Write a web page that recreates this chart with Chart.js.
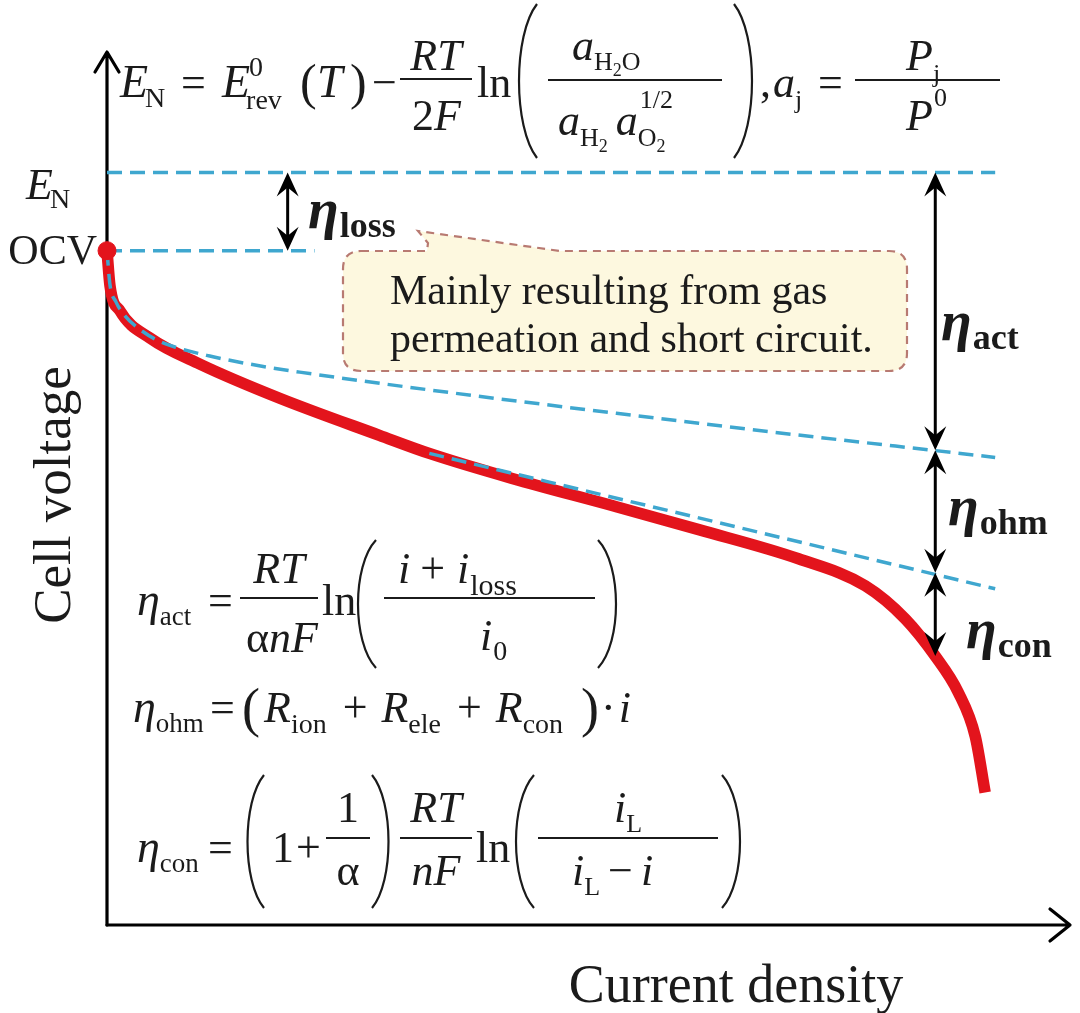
<!DOCTYPE html>
<html><head><meta charset="utf-8">
<script src="https://cdn.jsdelivr.net/npm/chart.js@4"></script>
<style>html,body{margin:0;padding:0;background:#fff;}#wrap{width:1080px;height:1013px;position:relative;}</style>
</head><body><div id="wrap"><canvas id="c"></canvas></div>
<script>
// ---- data (arbitrary schematic units: current density 0..100, cell voltage 0..100) ----
const curveX = [0,0.31,1.35,4.46,9.64,17.93,28.29,33.47,42.07,52.44,61.45,71.81,78.76,82.9,86.01,88.39,90.16,91.19];
const curveY = [77.24,73.22,70.34,67.24,64.25,60.34,56.09,54.02,51.15,48.05,45.29,41.95,38.85,35.06,30.8,26.67,21.61,15.17];
const actX = [0,0.31,0.93,1.87,3.21,4.97,7.05,10.67,14.82,20.0,61.45,92.23];
const actY = [77.24,73.33,71.38,69.77,68.39,67.13,66.21,65.17,64.25,63.33,57.47,53.56];
const ohmX = [33.47,92.23];
const ohmY = [54.02,38.51];
const enX = [0,92.23];
const enLevel = 86.21;
const ocvX = [0,21.55];
const ocvLevel = 77.24;
const lossArrowX = 18.76;
const bracketX = 86.01;
const bracketLevels = [86.21,54.37,40.34,30.8]; // E_N, act line, ohm line, curve at bracketX

const pts = (xs,ys)=>xs.map((x,i)=>({x:x,y:ys[i]}));
const BLUE = '#3fa7cf', RED = '#e3141c', INK = '#1b1b1b';
const SERIF = '"Liberation Serif","Times New Roman",serif';

function txt(ctx,s,x,y,size,style,align){
  ctx.font=(style||'')+' '+size+'px '+SERIF;
  ctx.textAlign=align||'left';ctx.textBaseline='alphabetic';ctx.fillStyle=INK;
  ctx.fillText(s,x,y);
  return x+ctx.measureText(s).width;
}
function bar(ctx,x1,x2,y){ctx.save();ctx.strokeStyle=INK;ctx.lineWidth=2.2;ctx.beginPath();ctx.moveTo(x1,y);ctx.lineTo(x2,y);ctx.stroke();ctx.restore();}
function paren(ctx,x1,x2,y1,y2,left){
  ctx.save();ctx.strokeStyle=INK;ctx.lineWidth=2.2;ctx.beginPath();
  if(left){ctx.moveTo(x2,y1);ctx.bezierCurveTo(x1-2,y1+(y2-y1)*0.2,x1-2,y2-(y2-y1)*0.2,x2,y2);}
  else{ctx.moveTo(x1,y1);ctx.bezierCurveTo(x2+2,y1+(y2-y1)*0.2,x2+2,y2-(y2-y1)*0.2,x1,y2);}
  ctx.stroke();ctx.restore();
}
function head(ctx,x,y,dir){
  ctx.beginPath();ctx.moveTo(x,y);ctx.lineTo(x-11,y-dir*24);ctx.lineTo(x,y-dir*15);ctx.lineTo(x+11,y-dir*24);ctx.closePath();ctx.fill();
}
function dblArrow(ctx,x,yTop,yBot){
  ctx.save();ctx.strokeStyle='#000';ctx.fillStyle='#000';ctx.lineWidth=3;
  ctx.beginPath();ctx.moveTo(x,yTop+10);ctx.lineTo(x,yBot-10);ctx.stroke();
  head(ctx,x,yTop,-1);head(ctx,x,yBot,1);ctx.restore();
}
function centered(ctx,parts,cx){ // parts: [text,size,style,dy]
  let w=0;
  parts.forEach(p=>{ctx.font=(p[2]||'')+' '+p[1]+'px '+SERIF;w+=ctx.measureText(p[0]).width+(p[4]||0);});
  return cx-w/2;
}

const overlay = {
  id:'overlay',
  beforeDatasetsDraw(chart){
    const ctx=chart.ctx, xs=chart.scales.x, ys=chart.scales.y;
    const x0=xs.getPixelForValue(0), y0=ys.getPixelForValue(0);
    ctx.save();
    ctx.fillStyle='#fdf8df';ctx.strokeStyle='#b87a72';ctx.lineWidth=2.2;ctx.setLineDash([8,6]);
    const L=343,T=251,R=907,B=371,r=18;
    ctx.beginPath();
    ctx.moveTo(L+r,T);ctx.lineTo(427,T);ctx.lineTo(428,243);ctx.lineTo(418,231);ctx.lineTo(560,T);
    ctx.lineTo(R-r,T);ctx.quadraticCurveTo(R,T,R,T+r);ctx.lineTo(R,B-r);ctx.quadraticCurveTo(R,B,R-r,B);
    ctx.lineTo(L+r,B);ctx.quadraticCurveTo(L,B,L,B-r);ctx.lineTo(L,T+r);ctx.quadraticCurveTo(L,T,L+r,T);ctx.closePath();
    ctx.fill();ctx.stroke();ctx.setLineDash([]);
    txt(ctx,'Mainly resulting from gas',390,304,42);
    txt(ctx,'permeation and short circuit.',390,352,42);
    ctx.strokeStyle='#000';ctx.lineWidth=3.2;ctx.lineCap='round';ctx.lineJoin='round';
    const top=ys.getPixelForValue(ys.max), right=xs.getPixelForValue(xs.max);
    ctx.beginPath();ctx.moveTo(x0,y0);ctx.lineTo(x0,top);ctx.moveTo(x0-12,top+20);ctx.lineTo(x0,top);ctx.lineTo(x0+12,top+20);ctx.stroke();
    ctx.beginPath();ctx.moveTo(x0,y0);ctx.lineTo(right,y0);ctx.moveTo(right-20,y0-16);ctx.lineTo(right,y0);ctx.lineTo(right-20,y0+16);ctx.stroke();
    ctx.restore();
  },
  afterDraw(chart){
    const ctx=chart.ctx, xs=chart.scales.x, ys=chart.scales.y;
    ctx.save();
    const lx=xs.getPixelForValue(lossArrowX);
    dblArrow(ctx,lx,ys.getPixelForValue(enLevel),ys.getPixelForValue(ocvLevel));
    const bx=xs.getPixelForValue(bracketX);
    for(let i=0;i<3;i++) dblArrow(ctx,bx,ys.getPixelForValue(bracketLevels[i]),ys.getPixelForValue(bracketLevels[i+1]));
    let e;
    e=txt(ctx,'η',308,228,56,'bold italic');txt(ctx,'loss',e+1,237,36,'bold');
    e=txt(ctx,'η',941,340,56,'bold italic');txt(ctx,'act',e+1,349,36,'bold');
    e=txt(ctx,'η',948,525,56,'bold italic');txt(ctx,'ohm',e+1,534,36,'bold');
    e=txt(ctx,'η',966,648,56,'bold italic');txt(ctx,'con',e+1,657,36,'bold');
    e=txt(ctx,'E',26,199,44,'italic');txt(ctx,'N',e-3,208,28);
    txt(ctx,'OCV',97,264,42,'','right');
    txt(ctx,'Current density',736,1002,54,'','center');
    ctx.save();ctx.translate(70,495);ctx.rotate(-Math.PI/2);txt(ctx,'Cell voltage',0,0,53,'','center');ctx.restore();
    // top equation
    e=txt(ctx,'E',120,97,46,'italic');txt(ctx,'N',e-3,107,28);
    txt(ctx,'=',181,97,44);
    e=txt(ctx,'E',222,97,46,'italic');txt(ctx,'0',e-1,76,28);txt(ctx,'rev',e-4,109,28);
    txt(ctx,'(',300,99,50);txt(ctx,'T',317,97,46,'italic');txt(ctx,')',350,99,50);
    txt(ctx,'−',372,97,44);
    bar(ctx,400,472,79);txt(ctx,'RT',436,70,44,'italic','center');
    e=txt(ctx,'2',412,130,44);txt(ctx,'F',e,130,44,'italic');
    txt(ctx,'ln',477,97,44);
    paren(ctx,515,537,4,158,true);
    e=txt(ctx,'a',572,60,44,'italic');e=txt(ctx,'H',e,70,26);e=txt(ctx,'2',e,76,18);txt(ctx,'O',e,70,26);
    bar(ctx,548,722,80);
    e=txt(ctx,'a',558,135,44,'italic');e=txt(ctx,'H',e,146,26);e=txt(ctx,'2',e,152,18);
    e=txt(ctx,'a',e+8,135,44,'italic');txt(ctx,'1/2',e+2,108,26);e=txt(ctx,'O',e,146,26);txt(ctx,'2',e,152,18);
    paren(ctx,734,756,4,158,false);
    e=txt(ctx,',',760,97,44);e=txt(ctx,'a',e+2,97,44,'italic');txt(ctx,'j',e,108,26);
    txt(ctx,'=',818,97,44);
    bar(ctx,855,1000,80);
    e=txt(ctx,'P',906,70,44,'italic');txt(ctx,'j',e,82,26);
    e=txt(ctx,'P',906,130,44,'italic');txt(ctx,'0',e+1,106,26);
    // eta_act
    e=txt(ctx,'η',137,615,46,'italic');txt(ctx,'act',e,625,27);
    txt(ctx,'=',208,615,44);
    bar(ctx,240,318,598);txt(ctx,'RT',279,583,44,'italic','center');
    e=txt(ctx,'α',246,652,44);e=txt(ctx,'nF',e,652,44,'italic');
    txt(ctx,'ln',322,615,44);
    paren(ctx,354,376,540,668,true);
    e=txt(ctx,'i',398,583,44,'italic');e=txt(ctx,'+',e+10,583,44);e=txt(ctx,'i',e+12,583,44,'italic');txt(ctx,'loss',e+1,595,30);
    bar(ctx,384,595,598);
    e=txt(ctx,'i',480,650,44,'italic');txt(ctx,'0',e+1,660,28);
    paren(ctx,598,620,540,668,false);
    // eta_ohm
    e=txt(ctx,'η',133,722,46,'italic');txt(ctx,'ohm',e,732,27);
    txt(ctx,'=',210,722,44);
    txt(ctx,'(',242,726,54);
    e=txt(ctx,'R',264,722,44,'italic');e=txt(ctx,'ion',e,733,28);
    e=txt(ctx,'+',e+16,722,44);
    e=txt(ctx,'R',e+14,722,44,'italic');e=txt(ctx,'ele',e,733,28);
    e=txt(ctx,'+',e+16,722,44);
    e=txt(ctx,'R',e+14,722,44,'italic');e=txt(ctx,'con',e,733,28);
    e=txt(ctx,')',e+18,726,54);e=txt(ctx,'·',e+2,722,44);txt(ctx,'i',e+3,722,44,'italic');
    // eta_con
    e=txt(ctx,'η',137,862,46,'italic');txt(ctx,'con',e,872,27);
    txt(ctx,'=',208,862,44);
    paren(ctx,244,264,775,908,true);
    e=txt(ctx,'1',272,862,44);txt(ctx,'+',e+2,862,44);
    bar(ctx,326,370,838);txt(ctx,'1',348,822,44,'','center');txt(ctx,'α',348,885,44,'','center');
    paren(ctx,372,392,775,908,false);
    bar(ctx,400,472,838);txt(ctx,'RT',436,822,44,'italic','center');txt(ctx,'nF',436,885,44,'italic','center');
    txt(ctx,'ln',476,862,44);
    paren(ctx,512,534,775,908,true);
    bar(ctx,538,718,838);
    e=txt(ctx,'i',614,822,44,'italic');txt(ctx,'L',e,832,26);
    e=txt(ctx,'i',572,885,44,'italic');e=txt(ctx,'L',e,895,26);e=txt(ctx,'−',e+8,885,44);txt(ctx,'i',e+8,885,44,'italic');
    paren(ctx,722,744,775,908,false);
    ctx.restore();
  }
};

new Chart(document.getElementById('c'),{
  type:'scatter',
  data:{datasets:[
    {data:pts(curveX,curveY),showLine:true,borderColor:RED,borderWidth:11.5,pointRadius:0,cubicInterpolationMode:'monotone',clip:false,order:5},
    {data:pts(actX,actY),showLine:true,borderColor:BLUE,borderWidth:3.5,borderDash:[15,8],pointRadius:0,cubicInterpolationMode:'monotone',clip:false,order:2},
    {data:pts(ohmX,ohmY),showLine:true,borderColor:BLUE,borderWidth:3.5,borderDash:[15,8],pointRadius:0,clip:false,order:2},
    {data:pts(enX,[enLevel,enLevel]),showLine:true,borderColor:BLUE,borderWidth:3.5,borderDash:[15,8],pointRadius:0,clip:false,order:2},
    {data:pts(ocvX,[ocvLevel,ocvLevel]),showLine:true,borderColor:BLUE,borderWidth:3.5,borderDash:[15,8],pointRadius:0,clip:false,order:2},
    {data:[{x:0,y:ocvLevel}],showLine:false,backgroundColor:RED,borderColor:RED,pointRadius:9,clip:false,order:0}
  ]},
  options:{
    responsive:true,maintainAspectRatio:false,animation:false,
    layout:{padding:{left:107,right:8,top:52,bottom:88}},
    plugins:{legend:{display:false},tooltip:{enabled:false}},
    scales:{x:{type:'linear',min:0,max:100,display:false},y:{type:'linear',min:0,max:100,display:false}}
  },
  plugins:[overlay]
});
</script></body></html>
